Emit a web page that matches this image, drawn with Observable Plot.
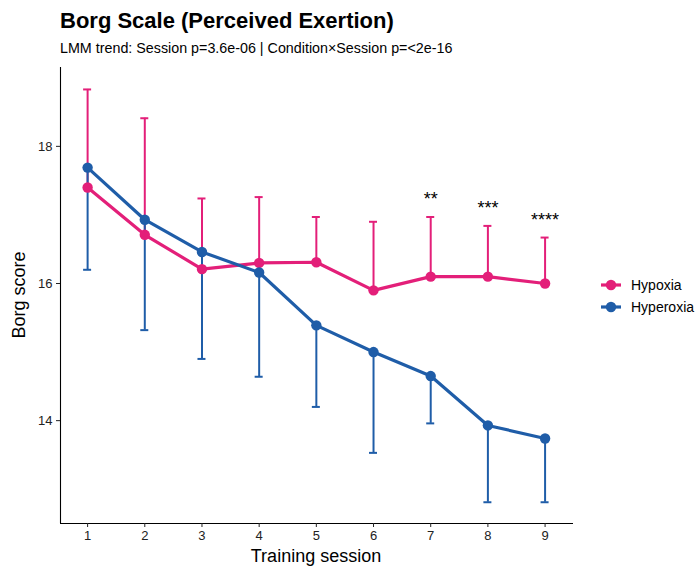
<!DOCTYPE html>
<html>
<head>
<meta charset="utf-8">
<script src="https://cdn.jsdelivr.net/npm/d3@7"></script>
<script src="https://cdn.jsdelivr.net/npm/@observablehq/plot@0.6"></script>
<style>
  html, body { margin: 0; padding: 0; background: #fff; }
  body { font-family: "Liberation Sans", Arial, Helvetica, sans-serif; }
  #wrap { position: relative; width: 700px; height: 567px; overflow: hidden; }
  #wrap > svg { position: absolute; left: 0; top: 0; }
  .abs { position: absolute; white-space: nowrap; color: #000; }
  #title { left: 60px; top: 8px; font-size: 22px; font-weight: bold; }
  #subtitle { left: 60px; top: 40px; font-size: 14.3px; }
  #ylab { left: 19px; top: 295px; font-size: 18px; transform: translate(-50%, -50%) rotate(-90deg); }
  #xlab { left: 316px; top: 556px; font-size: 18px; transform: translate(-50%, -50%); }
  .leg { position: absolute; left: 600px; height: 20px; display: flex; align-items: center; font-size: 14px; }
  .leg svg { display: block; }
  .leg span { margin-left: 9px; }
</style>
</head>
<body>
<div id="wrap">
  <div id="title" class="abs">Borg Scale (Perceived Exertion)</div>
  <div id="subtitle" class="abs">LMM trend: Session p=3.6e-06 | Condition×Session p=&lt;2e-16</div>
  <div id="ylab" class="abs">Borg score</div>
  <div id="xlab" class="abs">Training session</div>
</div>
<script>
// ---- data ----
const sessions = [1, 2, 3, 4, 5, 6, 7, 8, 9];
const conditions = ["Hypoxia", "Hyperoxia"];
const conditionColors = ["#E31F79", "#1F5DA8"];
const hypoxiaMean  = [17.40, 16.71, 16.21, 16.30, 16.31, 15.90, 16.10, 16.10, 16.00];
const hypoxiaUpper = [18.83, 18.41, 17.24, 17.26, 16.97, 16.90, 16.97, 16.84, 16.67];
const hyperoxiaMean  = [17.69, 16.93, 16.46, 16.16, 15.39, 15.00, 14.65, 13.93, 13.74];
const hyperoxiaLower = [16.20, 15.32, 14.90, 14.64, 14.20, 13.53, 13.96, 12.81, 12.81];
const sigSessions = [7, 8, 9];
const sigLabels = ["**", "***", "****"];
const yTicks = [14, 16, 18];

// ---- tables ----
const rows = [];
sessions.forEach((s, i) => {
  rows.push({session: s, condition: "Hypoxia", mean: hypoxiaMean[i], end: hypoxiaUpper[i]});
});
sessions.forEach((s, i) => {
  rows.push({session: s, condition: "Hyperoxia", mean: hyperoxiaMean[i], end: hyperoxiaLower[i]});
});
const stars = sigSessions.map((s, i) => ({
  session: s, label: sigLabels[i], y: hypoxiaUpper[sessions.indexOf(s)] + 0.3
}));

const capHalf = 0.07;
const xDomain = [0.526, 9.497];
const yDomain = [12.5, 19.15];

const chart = Plot.plot({
  width: 700,
  height: 567,
  marginLeft: 60,
  marginRight: 127,
  marginTop: 67,
  marginBottom: 44,
  style: {fontFamily: "'Liberation Sans', Arial, sans-serif", background: "transparent", overflow: "visible"},
  x: {domain: xDomain},
  y: {domain: yDomain},
  color: {domain: conditions, range: conditionColors},
  marks: [
    Plot.ruleY([yDomain[0]], {stroke: "#000", strokeWidth: 1.1}),
    Plot.ruleX([xDomain[0]], {stroke: "#000", strokeWidth: 1.1}),
    Plot.axisX({ticks: sessions, tickFormat: d => String(d), tickSize: 4, tickPadding: 3, fontSize: 13, label: null, color: "#222"}),
    Plot.axisY({ticks: yTicks, tickFormat: d => String(d), tickSize: 4, tickPadding: 4, fontSize: 13, label: null, color: "#222"}),
    // error bars (one-sided)
    Plot.ruleX(rows, {x: "session", y1: "mean", y2: "end", stroke: "condition", strokeWidth: 2}),
    Plot.ruleY(rows, {y: "end", x1: d => d.session - capHalf, x2: d => d.session + capHalf, stroke: "condition", strokeWidth: 2}),
    // lines
    Plot.line(rows, {x: "session", y: "mean", z: "condition", stroke: "condition", strokeWidth: 3.2}),
    // points
    Plot.dot(rows, {x: "session", y: "mean", fill: "condition", r: 5.2, stroke: null}),
    // significance stars
    Plot.text(stars, {x: "session", y: "y", text: "label", fontSize: 18, fill: "#000", lineAnchor: "middle", dy: 3})
  ]
});
document.getElementById("wrap").appendChild(chart);

// ---- legend ----
const wrap = document.getElementById("wrap");
const legendTops = [275, 297];
conditions.forEach((c, i) => {
  const d = document.createElement("div");
  d.className = "leg";
  d.style.top = legendTops[i] + "px";
  d.innerHTML = `<svg width="22" height="20"><line x1="1" x2="21" y1="10" y2="10" stroke="${conditionColors[i]}" stroke-width="3.2"/><circle cx="11" cy="10" r="5.2" fill="${conditionColors[i]}"/></svg><span>${c}</span>`;
  wrap.appendChild(d);
});
</script>
</body>
</html>
